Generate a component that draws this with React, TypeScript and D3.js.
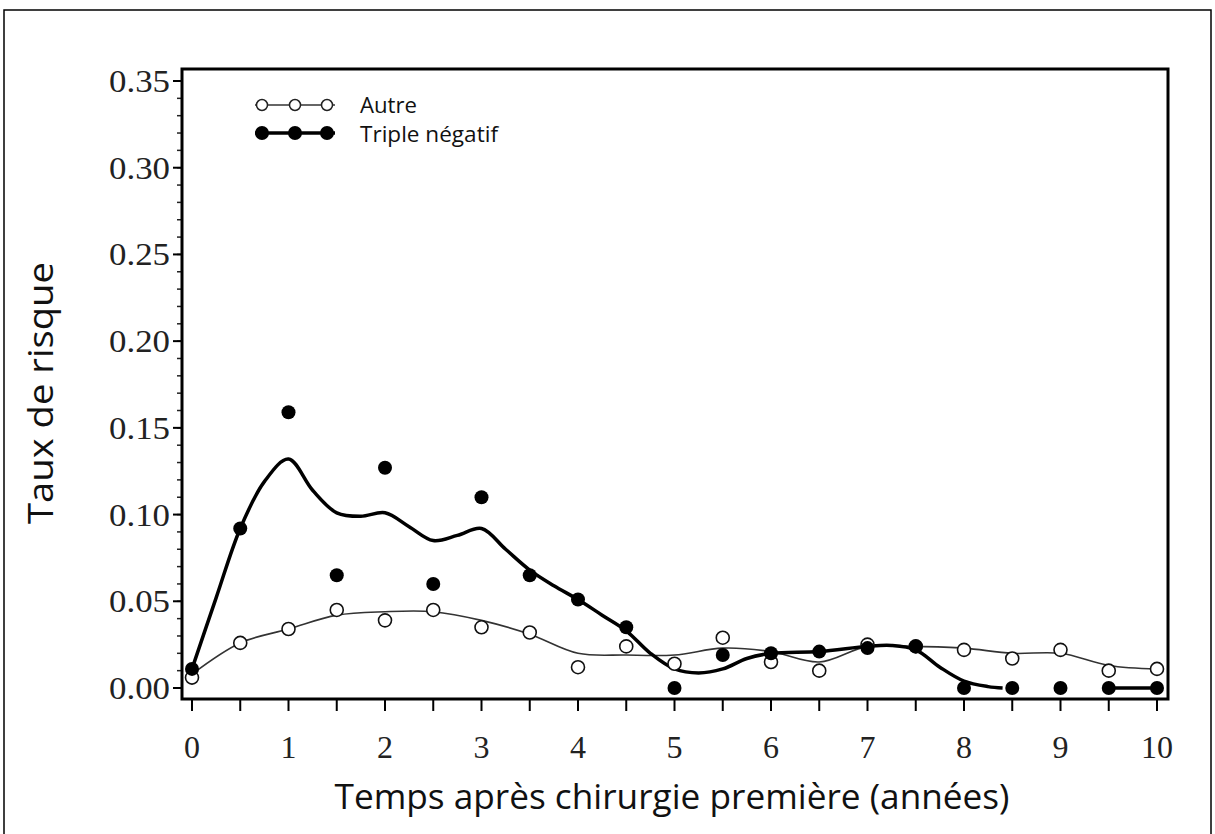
import React from "react";
import * as d3 from "d3";

// ---- Data ----
const pointYears = [0, 0.5, 1, 1.5, 2, 2.5, 3, 3.5, 4, 4.5, 5, 5.5, 6, 6.5, 7, 7.5, 8, 8.5, 9, 9.5, 10];
const autrePoints = [0.006, 0.026, 0.034, 0.045, 0.039, 0.045, 0.035, 0.032, 0.012, 0.024, 0.014, 0.029, 0.015, 0.010, 0.025, 0.024, 0.022, 0.017, 0.022, 0.010, 0.011];
const triplePoints = [0.011, 0.092, 0.159, 0.065, 0.127, 0.060, 0.110, 0.065, 0.051, 0.035, 0.000, 0.019, 0.020, 0.021, 0.023, 0.024, 0.000, 0.000, 0.000, 0.000, 0.000];

const autreCurveX = [0, 0.5, 1, 1.5, 2, 2.5, 3, 3.5, 4, 4.5, 5, 5.5, 6, 6.5, 7, 7.5, 8, 8.5, 9, 9.5, 10];
const autreCurveY = [0.008, 0.026, 0.034, 0.042, 0.044, 0.044, 0.039, 0.031, 0.020, 0.019, 0.019, 0.023, 0.021, 0.015, 0.024, 0.024, 0.023, 0.020, 0.020, 0.013, 0.011];

const tripleCurveX = [0, 0.25, 0.5, 0.75, 1, 1.25, 1.5, 1.75, 2, 2.25, 2.5, 2.75, 3, 3.25, 3.5, 3.75, 4, 4.25, 4.5, 4.75, 5, 5.25, 5.5, 5.75, 6, 6.5, 7, 7.25, 7.5, 7.75, 8, 8.25, 8.4];
const tripleCurveY = [0.011, 0.052, 0.092, 0.119, 0.132, 0.114, 0.101, 0.099, 0.101, 0.093, 0.085, 0.088, 0.092, 0.080, 0.068, 0.059, 0.051, 0.042, 0.033, 0.020, 0.011, 0.0087, 0.011, 0.017, 0.020, 0.021, 0.024, 0.0245, 0.022, 0.012, 0.004, 0.0008, 0.0];
const tripleTailX = [9.5, 10];
const tripleTailY = [0, 0];

const xTicks = [0, 1, 2, 3, 4, 5, 6, 7, 8, 9, 10];
const xMinorTicks = [0.5, 1.5, 2.5, 3.5, 4.5, 5.5, 6.5, 7.5, 8.5, 9.5];
const yTicks = [0, 0.05, 0.1, 0.15, 0.2, 0.25, 0.3, 0.35];

const xTitle = "Temps après chirurgie première (années)";
const yTitle = "Taux de risque";
const legendLabels = ["Autre", "Triple négatif"];

export default function App() {
  const W = 1215, H = 834;
  const frame = { left: 182, right: 1168, top: 69, bottom: 699 };
  const x = d3.scaleLinear().domain([0, 10]).range([192, 1157]);
  const y = d3.scaleLinear().domain([0, 0.35]).range([688, 81]);

  const line = d3
    .line<[number, number]>()
    .x((d) => x(d[0]))
    .y((d) => y(d[1]))
    .curve(d3.curveCatmullRom.alpha(0.5));

  const autrePath = line(autreCurveX.map((v, i) => [v, autreCurveY[i]]) as [number, number][]) || "";
  const triplePath = line(tripleCurveX.map((v, i) => [v, tripleCurveY[i]]) as [number, number][]) || "";
  const tailPath = d3.line<[number, number]>().x((d) => x(d[0])).y((d) => y(d[1]))(
    tripleTailX.map((v, i) => [v, tripleTailY[i]]) as [number, number][]
  ) || "";

  const yMinor = d3.range(0, 0.3501, 0.01).map((v) => +v.toFixed(2));
  const serif = "'Liberation Serif', 'DejaVu Serif', serif";
  const sans = "'Open Sans', 'Noto Sans', sans-serif";

  const legendX = [262, 295, 327];

  return (
    <svg width={W} height={H} style={{ position: "absolute", left: 0, top: 0, background: "#fff" }}>
      <rect x={0} y={0} width={W} height={H} fill="#fff" />
      {/* outer frame */}
      <rect x={4} y={10} width={1207} height={900} fill="none" stroke="#000" strokeWidth={1.5} />

      {/* y ticks */}
      {yMinor.map((v) => (
        <line key={"ym" + v} x1={frame.left - 5} x2={frame.left} y1={y(v)} y2={y(v)} stroke="#222" strokeWidth={1.5} />
      ))}
      {yTicks.map((v) => (
        <g key={"y" + v}>
          <line x1={frame.left - 9} x2={frame.left} y1={y(v)} y2={y(v)} stroke="#000" strokeWidth={2} />
          <text x={170} y={y(v) + 11} textAnchor="end" fontFamily={serif} fontSize={32} fill="#222"
            textLength={61} lengthAdjust="spacingAndGlyphs">
            {v.toFixed(2)}
          </text>
        </g>
      ))}

      {/* x ticks */}
      {xMinorTicks.concat(xTicks).map((v) => (
        <line key={"xt" + v} x1={x(v)} x2={x(v)} y1={frame.bottom} y2={frame.bottom + 12} stroke="#000" strokeWidth={2} />
      ))}
      {xTicks.map((v) => (
        <text key={"xl" + v} x={x(v)} y={758} textAnchor="middle" fontFamily={serif} fontSize={32} fill="#222">
          {v}
        </text>
      ))}

      {/* curves */}
      <path d={autrePath} fill="none" stroke="#333" strokeWidth={1.6} />
      <path d={triplePath} fill="none" stroke="#000" strokeWidth={3.5} strokeLinejoin="round" />
      <path d={tailPath} fill="none" stroke="#000" strokeWidth={3.5} />

      {/* points */}
      {pointYears.map((t, i) => (
        <circle key={"a" + i} cx={x(t)} cy={y(autrePoints[i])} r={6.5} fill="#fff" stroke="#111" strokeWidth={1.6} />
      ))}
      {pointYears.map((t, i) => (
        <circle key={"t" + i} cx={x(t)} cy={y(triplePoints[i])} r={7} fill="#000" />
      ))}

      {/* plot frame */}
      <rect
        x={frame.left}
        y={frame.top}
        width={frame.right - frame.left}
        height={frame.bottom - frame.top}
        fill="none"
        stroke="#000"
        strokeWidth={3}
      />

      {/* legend */}
      <line x1={255} x2={335} y1={105} y2={105} stroke="#333" strokeWidth={1.6} />
      {legendX.map((lx) => (
        <circle key={"la" + lx} cx={lx} cy={105} r={5.5} fill="#fff" stroke="#222" strokeWidth={1.5} />
      ))}
      <line x1={255} x2={335} y1={133} y2={133} stroke="#000" strokeWidth={3.5} />
      {legendX.map((lx) => (
        <circle key={"lt" + lx} cx={lx} cy={133} r={7} fill="#000" />
      ))}
      <text x={360} y={113} fontFamily={sans} fontSize={21} fill="#111" textLength={57} lengthAdjust="spacingAndGlyphs">
        {legendLabels[0]}
      </text>
      <text x={360} y={142} fontFamily={sans} fontSize={21} fill="#111" textLength={138} lengthAdjust="spacingAndGlyphs">
        {legendLabels[1]}
      </text>

      {/* axis titles */}
      <text
        transform={`translate(53, 393) rotate(-90)`}
        textAnchor="middle"
        fontFamily={sans}
        fontSize={34}
        fill="#111"
        textLength={262}
        lengthAdjust="spacingAndGlyphs"
      >
        {yTitle}
      </text>
      <text
        x={672}
        y={809}
        textAnchor="middle"
        fontFamily={sans}
        fontSize={35}
        fill="#111"
        textLength={675}
        lengthAdjust="spacingAndGlyphs"
      >
        {xTitle}
      </text>
    </svg>
  );
}
